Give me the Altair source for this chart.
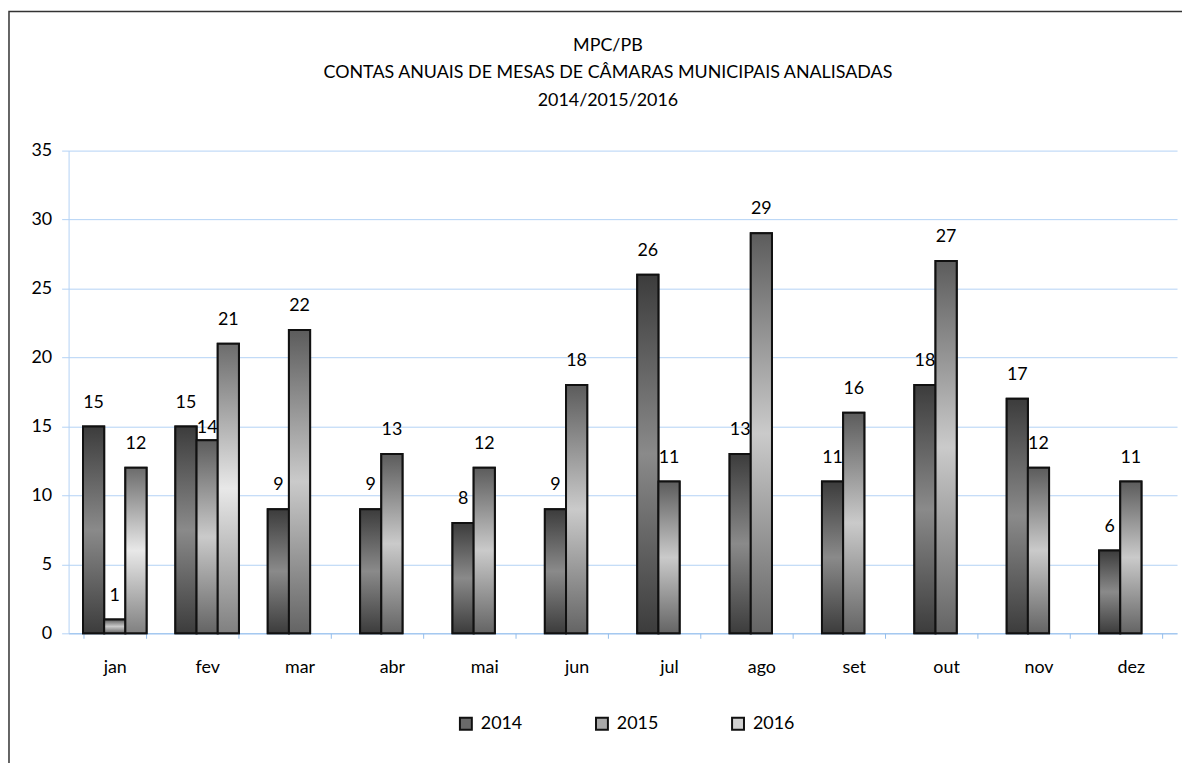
import altair as alt
import pandas as pd

months = ["jan", "fev", "mar", "abr", "mai", "jun", "jul", "ago", "set", "out", "nov", "dez"]
years = ["2014", "2015", "2016"]
v2014 = [15, 15, 9, 9, 8, 9, 26, 13, 11, 18, 17, 6]
v2015 = [1, 14, 22, 13, 12, 18, 11, 29, 16, 27, 12, 11]
v2016 = [12, 21, None, None, None, None, None, None, None, None, None, None]

title_lines = ["MPC/PB", "CONTAS ANUAIS DE MESAS DE CÂMARAS MUNICIPAIS ANALISADAS", "2014/2015/2016"]

rows = []
for yr, vals in zip(years, [v2014, v2015, v2016]):
    for m, v in zip(months, vals):
        if v is not None:
            rows.append({"month": m, "year": yr, "value": v})
df = pd.DataFrame(rows)

FONT = "Lato"
FS = 18
W, H = 1116, 486
BLUE_GRID = "#b3d2f5"
BLUE_AXIS = "#94bdec"


def grad(edge_top, mid, edge_bot):
    return alt.LinearGradient(
        gradient="linear",
        x1=0, x2=0, y1=0, y2=1,
        stops=[
            alt.GradientStop(offset=0, color=edge_top),
            alt.GradientStop(offset=0.5, color=mid),
            alt.GradientStop(offset=1, color=edge_bot),
        ],
    )


grads = {
    "2014": grad("#3c3c3c", "#8a8a8a", "#3c3c3c"),
    "2015": grad("#5c5c5c", "#cacaca", "#646464"),
    "2016": grad("#6c6c6c", "#e8e8e8", "#808080"),
}

x_enc = alt.X(
    "month:N",
    sort=months,
    scale=alt.Scale(domain=months, paddingInner=0.312, paddingOuter=0.156),
    axis=alt.Axis(
        title=None, labelAngle=0, labelFont=FONT, labelFontSize=FS, labelColor="#000",
        domainColor=BLUE_AXIS, tickColor=BLUE_AXIS, tickSize=5, labelPadding=20,
        tickBand="extent", grid=False,
    ),
)
xo_enc = alt.XOffset("year:N", scale=alt.Scale(domain=years, paddingInner=0, paddingOuter=0))
y_enc = alt.Y(
    "value:Q",
    scale=alt.Scale(domain=[0, 35], nice=False),
    axis=alt.Axis(
        title=None, values=[0, 5, 10, 15, 20, 25, 30, 35], labelFont=FONT, labelFontSize=FS,
        labelColor="#000", domainColor=BLUE_GRID, tickColor=BLUE_GRID, tickSize=7,
        labelPadding=10, gridColor=BLUE_GRID, gridWidth=1,
    ),
)

base = alt.Chart(df)

legend_bars = base.mark_bar(stroke="#111", strokeWidth=2).encode(
    x=x_enc, xOffset=xo_enc, y=y_enc,
    fill=alt.Fill(
        "year:N",
        scale=alt.Scale(domain=years, range=["#6a6a6a", "#a9a9a9", "#d2d2d2"]),
        legend=alt.Legend(
            title=None, orient="none", direction="horizontal", legendX=391, legendY=568,
            symbolType="square", symbolSize=144, symbolStrokeColor="#111", symbolStrokeWidth=2,
            labelFont=FONT, labelFontSize=FS, labelColor="#000", labelOffset=6,
            columnPadding=70, padding=0,
        ),
    ),
)

layers = [legend_bars]
for yr in years:
    layers.append(
        base.transform_filter(alt.datum.year == yr)
        .mark_bar(fill=grads[yr], stroke="#111", strokeWidth=2)
        .encode(x=x_enc, xOffset=xo_enc, y=y_enc)
    )

crowded = (alt.datum.month == "fev") & (alt.datum.year == "2015")
labels = base.transform_filter(~crowded).mark_text(
    font=FONT, fontSize=FS, color="#000", dy=-24
).encode(x=x_enc, xOffset=xo_enc, y=y_enc, text="value:Q")
labels_low = base.transform_filter(crowded).mark_text(
    font=FONT, fontSize=FS, color="#000", dy=-12
).encode(x=x_enc, xOffset=xo_enc, y=y_enc, text="value:Q")
layers += [labels, labels_low]

frame = alt.Chart(pd.DataFrame({"a": [0]})).mark_rect(
    filled=False, stroke="#333", strokeWidth=1.5
).encode(x=alt.value(-60), x2=alt.value(W + 60), y=alt.value(-140), y2=alt.value(H + 200))
layers.append(frame)

chart = (
    alt.layer(*layers)
    .properties(
        width=W,
        height=H,
        title=alt.TitleParams(
            text=title_lines, font=FONT, fontSize=FS, fontWeight="normal", color="#000",
            lineHeight=28, anchor="middle", frame="group", dx=-15, offset=0, dy=100,
        ),
        autosize=alt.AutoSizeParams(type="none"),
        padding={"left": 61, "top": 141, "right": 5, "bottom": 128},
    )
    .configure_view(stroke=None)
)

chart.save("out.html", embed_options={"renderer": "svg", "actions": False})
